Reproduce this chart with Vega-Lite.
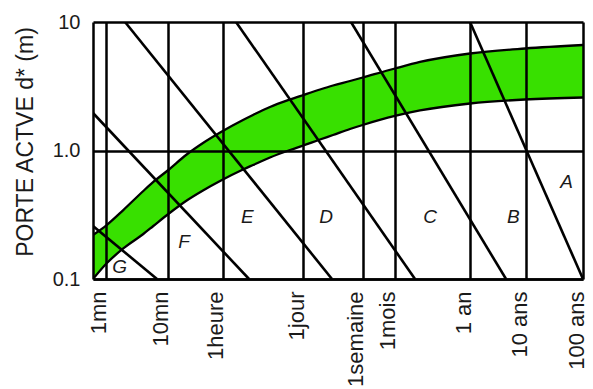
{
  "$schema": "https://vega.github.io/schema/vega-lite/v6.json",
  "width": 490,
  "height": 257,
  "autosize": {"type": "none"},
  "padding": {"left": 93, "top": 22, "right": 10, "bottom": 110},
  "background": "white",
  "config": {"font": "Liberation Sans", "view": {"stroke": null}},
  "datasets": {
    "bande": [
      {"t": 0.616, "haut": 0.22, "bas": 0.1},
      {"t": 1.026, "haut": 0.263, "bas": 0.1325},
      {"t": 1.905, "haut": 0.344, "bas": 0.173},
      {"t": 4.018, "haut": 0.484, "bas": 0.224},
      {"t": 5.832, "haut": 0.569, "bas": 0.2585},
      {"t": 10.2, "haut": 0.705, "bas": 0.3204},
      {"t": 19.72, "haut": 0.9226, "bas": 0.4046},
      {"t": 37.16, "haut": 1.144, "bas": 0.4884},
      {"t": 72.68, "haut": 1.393, "bas": 0.5841},
      {"t": 165, "haut": 1.727, "bas": 0.7113},
      {"t": 239.5, "haut": 1.889, "bas": 0.771},
      {"t": 451.3, "haut": 2.181, "bas": 0.8821},
      {"t": 951.3, "haut": 2.494, "bas": 1.009},
      {"t": 1562, "haut": 2.703, "bas": 1.094},
      {"t": 2910, "haut": 2.984, "bas": 1.218},
      {"t": 4724, "haut": 3.205, "bas": 1.32},
      {"t": 8904, "haut": 3.474, "bas": 1.47},
      {"t": 14293, "haut": 3.7, "bas": 1.579},
      {"t": 47645, "haut": 4.347, "bas": 1.856},
      {"t": 120930, "haut": 4.884, "bas": 2.048},
      {"t": 779900, "haut": 5.686, "bas": 2.322},
      {"t": 6056000, "haut": 6.221, "bas": 2.494},
      {"t": 52596000, "haut": 6.622, "bas": 2.585}
    ],
    "droites": [
      {"ligne": "G", "t": 0.616, "d": 0.2585},
      {"ligne": "G", "t": 6.69, "d": 0.1},
      {"ligne": "F", "t": 0.616, "d": 1.958},
      {"ligne": "F", "t": 206.4, "d": 0.1},
      {"ligne": "E", "t": 2.03, "d": 10},
      {"ligne": "E", "t": 4550, "d": 0.1},
      {"ligne": "D", "t": 127.1, "d": 10},
      {"ligne": "D", "t": 100400, "d": 0.1},
      {"ligne": "C", "t": 9242, "d": 10},
      {"ligne": "C", "t": 2983000, "d": 0.1},
      {"ligne": "B", "t": 779900, "d": 10},
      {"ligne": "B", "t": 52596000, "d": 0.1}
    ],
    "lettres": [
      {"lettre": "A", "t": 28650000, "d": 0.572},
      {"lettre": "B", "t": 3915000, "d": 0.305},
      {"lettre": "C", "t": 175600, "d": 0.305},
      {"lettre": "D", "t": 3639, "d": 0.305},
      {"lettre": "E", "t": 193.7, "d": 0.305},
      {"lettre": "F", "t": 18.3, "d": 0.195},
      {"lettre": "G", "t": 1.667, "d": 0.1246}
    ]
  },
  "layer": [
    {
      "data": {"name": "bande"},
      "mark": {"type": "area", "color": "#38e000", "interpolate": "monotone", "clip": true},
      "encoding": {
        "x": {
          "field": "t", "type": "quantitative",
          "scale": {"type": "log", "domain": [0.616, 52596000], "nice": false},
          "axis": {
            "title": null,
            "values": [1, 10, 78.3, 1545, 14190, 46770, 779800, 6290000, 52596000],
            "labelExpr": "datum.value < 3 ? '1mn' : datum.value < 30 ? '10mn' : datum.value < 300 ? '1heure' : datum.value < 5000 ? '1jour' : datum.value < 25000 ? '1semaine' : datum.value < 200000 ? '1mois' : datum.value < 2000000 ? '1 an' : datum.value < 20000000 ? '10 ans' : '100 ans'",
            "labelAngle": 270,
            "labelAlign": "right",
            "labelBaseline": "middle",
            "labelFontSize": 22,
            "labelColor": "#1a1a1a",
            "labelPadding": 12,
            "labelOffset": -7,
            "labelOverlap": false,
            "labelFlush": false,
            "labelBound": false,
            "ticks": false,
            "domain": true,
            "domainColor": "black",
            "domainWidth": 2.5,
            "grid": true,
            "gridColor": "black",
            "gridWidth": 2.5,
            "gridOpacity": 1,
            "zindex": 1
          }
        },
        "y": {
          "field": "haut", "type": "quantitative",
          "scale": {"type": "log", "domain": [0.1, 10], "nice": false},
          "axis": {
            "title": "PORTE ACTVE d* (m)",
            "values": [0.1, 1, 10],
            "labelExpr": "datum.value < 0.5 ? '0.1' : datum.value < 5 ? '1.0' : '10'",
            "labelFontSize": 20,
            "labelColor": "#1a1a1a",
            "labelPadding": 13,
            "labelOverlap": false,
            "labelFlush": false,
            "ticks": false,
            "domain": true,
            "domainColor": "black",
            "domainWidth": 2.5,
            "grid": true,
            "gridColor": "black",
            "gridWidth": 2.5,
            "gridOpacity": 1,
            "zindex": 1,
            "titleFontSize": 23,
            "titleFontWeight": "normal",
            "titleColor": "#1a1a1a",
            "titlePadding": 15,
            "titleY": 119.5
          }
        },
        "y2": {"field": "bas"}
      }
    },
    {
      "data": {"name": "bande"},
      "mark": {"type": "line", "color": "black", "strokeWidth": 2.3, "interpolate": "monotone", "clip": true},
      "encoding": {
        "x": {"field": "t", "type": "quantitative", "scale": {"type": "log", "domain": [0.616, 52596000], "nice": false}},
        "y": {"field": "haut", "type": "quantitative", "scale": {"type": "log", "domain": [0.1, 10], "nice": false}}
      }
    },
    {
      "data": {"name": "bande"},
      "mark": {"type": "line", "color": "black", "strokeWidth": 2.3, "interpolate": "monotone", "clip": true},
      "encoding": {
        "x": {"field": "t", "type": "quantitative", "scale": {"type": "log", "domain": [0.616, 52596000], "nice": false}},
        "y": {"field": "bas", "type": "quantitative", "scale": {"type": "log", "domain": [0.1, 10], "nice": false}}
      }
    },
    {
      "data": {"name": "droites"},
      "mark": {"type": "line", "color": "black", "strokeWidth": 2.6, "clip": true},
      "encoding": {
        "x": {"field": "t", "type": "quantitative", "scale": {"type": "log", "domain": [0.616, 52596000], "nice": false}},
        "y": {"field": "d", "type": "quantitative", "scale": {"type": "log", "domain": [0.1, 10], "nice": false}},
        "detail": {"field": "ligne", "type": "nominal"}
      }
    },
    {
      "data": {"name": "lettres"},
      "mark": {"type": "text", "fontSize": 19, "fontStyle": "italic", "fontWeight": 500, "color": "#1a1a1a", "align": "center", "baseline": "middle"},
      "encoding": {
        "x": {"field": "t", "type": "quantitative", "scale": {"type": "log", "domain": [0.616, 52596000], "nice": false}},
        "y": {"field": "d", "type": "quantitative", "scale": {"type": "log", "domain": [0.1, 10], "nice": false}},
        "text": {"field": "lettre", "type": "nominal"}
      }
    }
  ]
}
